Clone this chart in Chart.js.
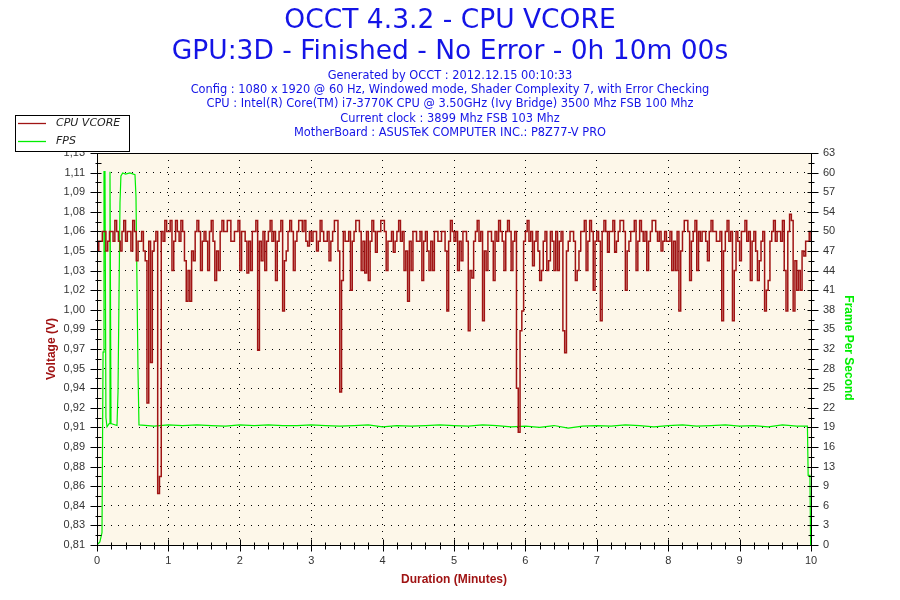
<!DOCTYPE html>
<html>
<head>
<meta charset="utf-8">
<title>OCCT 4.3.2 - CPU VCORE</title>
<script src="https://cdn.jsdelivr.net/npm/chart.js@4.4.1/dist/chart.umd.min.js"></script>
<style>
    html, body { margin: 0; padding: 0; background: #fff; }
    #wrap { width: 900px; height: 600px; }
</style>
</head>
<body>
<div id="wrap"><canvas id="vcoreChart" width="900" height="600"></canvas></div>
<script>
// Header text
const titleLines = ['OCCT 4.3.2 - CPU VCORE', 'GPU:3D - Finished - No Error - 0h 10m 00s'];
const infoLines = [
    'Generated by OCCT : 2012.12.15 00:10:33',
    'Config : 1080 x 1920 @ 60 Hz, Windowed mode, Shader Complexity 7, with Error Checking',
    'CPU : Intel(R) Core(TM) i7-3770K CPU @ 3.50GHz (Ivy Bridge) 3500 Mhz FSB 100 Mhz',
    'Current clock : 3899 Mhz FSB 103 Mhz',
    'MotherBoard : ASUSTeK COMPUTER INC.: P8Z77-V PRO'
];

// Tick labels
const voltTickLabels = ['0,81', '0,83', '0,84', '0,86', '0,88', '0,89', '0,91', '0,92', '0,94', '0,95', '0,97',
    '0,99', '1,00', '1,02', '1,03', '1,05', '1,06', '1,08', '1,09', '1,11', '1,13'];
const fpsTickLabels = ['0', '3', '6', '9', '13', '16', '19', '22', '25', '28', '32',
    '35', '38', '41', '44', '47', '50', '54', '57', '60', '63'];
const minuteTicks = [0, 1, 2, 3, 4, 5, 6, 7, 8, 9, 10];

// CPU VCORE, one sample every 1.5 seconds (0.025 min)
const sampleMinutes = 0.025;
const vcoreValues = [
    1.050, 1.058, 1.058, 1.066, 1.066, 1.050, 1.058, 1.066, 1.066, 1.058, 1.075, 1.066, 1.058, 1.050, 1.066, 1.075, 1.058, 1.066, 1.066, 1.050,
    1.075, 1.066, 1.042, 1.058, 1.058, 1.066, 1.050, 1.042, 0.926, 1.058, 0.959, 1.050, 1.058, 1.066, 0.852, 0.866, 1.066, 1.058, 1.075, 1.066,
    1.066, 1.075, 1.034, 1.058, 1.075, 1.066, 1.058, 1.075, 1.066, 1.042, 1.009, 1.034, 1.009, 1.050, 1.042, 1.066, 1.075, 1.066, 1.034, 1.058,
    1.066, 1.058, 1.034, 1.066, 1.075, 1.058, 1.026, 1.050, 1.034, 1.066, 1.075, 1.066, 1.066, 1.075, 1.075, 1.058, 1.058, 1.066, 1.066, 1.075,
    1.034, 1.066, 1.066, 1.058, 1.032, 1.058, 1.034, 1.066, 1.066, 1.075, 0.969, 1.058, 1.042, 1.066, 1.034, 1.058, 1.066, 1.075, 1.058, 1.066,
    1.026, 1.058, 1.066, 1.075, 1.001, 1.042, 1.050, 1.066, 1.075, 1.066, 1.034, 1.058, 1.066, 1.075, 1.075, 1.066, 1.075, 1.058, 1.054, 1.066,
    1.058, 1.066, 1.066, 1.050, 1.058, 1.075, 1.066, 1.058, 1.058, 1.066, 1.042, 1.058, 1.066, 1.075, 1.075, 1.050, 0.935, 1.026, 1.066, 1.058,
    1.058, 1.066, 1.018, 1.058, 1.066, 1.075, 1.075, 1.066, 1.034, 1.058, 1.032, 1.066, 1.026, 1.058, 1.075, 1.066, 1.049, 1.066, 1.066, 1.075,
    1.075, 1.066, 1.034, 1.058, 1.058, 1.066, 1.049, 1.058, 1.066, 1.075, 1.058, 1.066, 1.034, 1.050, 1.009, 1.058, 1.034, 1.066, 1.066, 1.058,
    1.058, 1.066, 1.026, 1.058, 1.066, 1.050, 1.034, 1.058, 1.034, 1.066, 1.066, 1.058, 1.058, 1.066, 1.066, 1.050, 1.001, 1.058, 1.075, 1.066,
    1.058, 1.066, 1.034, 1.058, 1.042, 1.066, 1.066, 1.058, 0.985, 1.034, 1.028, 1.058, 1.066, 1.075, 1.058, 1.066, 0.993, 1.050, 1.034, 1.066,
    1.066, 1.058, 1.026, 1.066, 1.058, 1.075, 1.066, 1.058, 1.034, 1.066, 1.075, 1.066, 1.034, 1.058, 1.066, 0.938, 0.902, 0.985, 1.001, 1.058,
    1.066, 1.075, 1.058, 1.066, 1.038, 1.058, 1.066, 1.050, 1.026, 1.034, 1.058, 1.066, 1.034, 1.042, 1.066, 1.058, 1.034, 1.066, 1.034, 1.058,
    1.066, 0.985, 0.967, 1.050, 1.058, 1.066, 1.066, 1.058, 1.026, 1.034, 1.050, 1.066, 1.066, 1.075, 1.034, 1.058, 1.075, 1.066, 1.018, 1.058,
    1.066, 1.058, 0.993, 1.066, 1.075, 1.066, 1.049, 1.066, 1.066, 1.075, 1.049, 1.058, 1.066, 1.075, 1.075, 1.066, 1.018, 1.050, 1.058, 1.066,
    1.066, 1.075, 1.034, 1.058, 1.075, 1.066, 1.058, 1.066, 1.034, 1.058, 1.066, 1.075, 1.075, 1.066, 1.058, 1.066, 1.050, 1.058, 1.066, 1.058,
    1.058, 1.066, 1.034, 1.058, 1.034, 1.066, 1.001, 1.050, 1.066, 1.075, 1.075, 1.066, 1.026, 1.058, 1.066, 1.075, 1.034, 1.066, 1.058, 1.066,
    1.066, 1.058, 1.042, 1.066, 1.075, 1.066, 1.066, 1.058, 1.058, 1.066, 0.993, 1.050, 1.066, 1.075, 1.058, 1.066, 0.993, 1.034, 1.066, 1.058,
    1.042, 1.066, 1.066, 1.075, 1.058, 1.066, 1.026, 1.058, 1.066, 1.050, 1.026, 1.042, 1.058, 1.066, 1.001, 1.018, 1.026, 1.058, 1.066, 1.075,
    1.058, 1.066, 1.066, 1.058, 1.075, 1.034, 1.001, 1.066, 1.080, 1.075, 1.001, 1.042, 1.018, 1.034, 1.018, 1.050, 1.046, 1.058, 1.058, 1.066,
    1.058
];

// FPS (minutes, frames per second)
const fpsTimes = [
    0.00, 0.04, 0.07, 0.085, 0.098, 0.112, 0.125, 0.14, 0.17, 0.182, 0.196, 0.28, 0.294, 0.322, 0.335,
    0.36, 0.40, 0.46, 0.532, 0.546, 0.574, 0.588,
    0.8, 1.0, 1.2, 1.4, 1.6, 1.8, 2.0, 2.2, 2.4, 2.6, 2.8, 3.0, 3.2, 3.4, 3.6, 3.8, 4.0,
    4.2, 4.4, 4.6, 4.8, 5.0, 5.2, 5.4, 5.6, 5.8, 6.0, 6.2, 6.4, 6.6, 6.8, 7.0, 7.2, 7.4,
    7.6, 7.8, 8.0, 8.2, 8.4, 8.6, 8.8, 9.0, 9.2, 9.4, 9.6, 9.8, 9.95, 9.96, 9.985, 9.995
];
const fpsValues = [
    0, 0.5, 2, 31, 60, 60, 20.5, 19, 19.5, 60, 19.5, 19.2, 24.5, 55, 59.3,
    59.8, 59.6, 59.8, 59.5, 56, 28, 19.3,
    19.1, 19.3, 19.2, 19.3, 19.2, 19.1, 19.3, 19.2, 19.3, 19.2, 19.2, 19.3, 19.2, 19.1, 19.2, 19.3, 19.0,
    19.2, 19.1, 19.2, 19.3, 19.2, 19.1, 19.3, 19.2, 19.0, 19.1, 18.9, 19.2, 18.8, 19.1, 19.2, 19.1, 19.3,
    19.2, 19.0, 19.2, 19.3, 19.1, 19.2, 19.3, 19.1, 19.2, 19.0, 19.3, 19.1, 19.1, 11.2, 11.2, 0
];

const voltRange = [0.81, 1.13];
const fpsRange = [0, 63];

const vcoreColor = '#a01414';
const fpsColor = '#00ee00';
const plotBg = '#fdf7e9';
const titleBlue = '#1414e6';

function evenTicks(range, count) {
    const out = [];
    for (let i = 0; i < count; i++) {
        out.push({ value: range[0] + (range[1] - range[0]) * i / (count - 1) });
    }
    return out;
}

const occtDecor = {
    id: 'occtDecor',
    beforeDraw(chart) {
        const { ctx, chartArea: a } = chart;
        ctx.save();
        ctx.fillStyle = '#fff';
        ctx.fillRect(0, 0, chart.width, chart.height);
        ctx.fillStyle = plotBg;
        ctx.fillRect(a.left, a.top, a.right - a.left, a.bottom - a.top);
        ctx.restore();
    },
    afterDraw(chart) {
        const { ctx, chartArea: a, scales } = chart;
        ctx.save();

        // frame
        ctx.strokeStyle = '#000';
        ctx.lineWidth = 1;
        ctx.strokeRect(Math.round(a.left) + 0.5, Math.round(a.top) + 0.5,
            Math.round(a.right - a.left), Math.round(a.bottom - a.top));

        // tick marks, one minor between majors on y, four on x
        ctx.beginPath();
        const yl = scales.yV, yr = scales.yF, xs = scales.x;
        const L = Math.round(a.left) + 0.5, R = Math.round(a.right) + 0.5, B = Math.round(a.bottom) + 0.5;
        yl.ticks.forEach((t, i) => {
            const y = Math.round(yl.getPixelForValue(t.value)) + 0.5;
            ctx.moveTo(L - 7, y); ctx.lineTo(L + 4, y);
            if (i < yl.ticks.length - 1) {
                const ym = Math.round(yl.getPixelForValue((t.value + yl.ticks[i + 1].value) / 2)) + 0.5;
                ctx.moveTo(L - 2, ym); ctx.lineTo(L + 4, ym);
            }
        });
        yr.ticks.forEach((t, i) => {
            const y = Math.round(yr.getPixelForValue(t.value)) + 0.5;
            ctx.moveTo(R - 4, y); ctx.lineTo(R + 7, y);
            if (i < yr.ticks.length - 1) {
                const ym = Math.round(yr.getPixelForValue((t.value + yr.ticks[i + 1].value) / 2)) + 0.5;
                ctx.moveTo(R - 3, ym); ctx.lineTo(R + 3, ym);
            }
        });
        xs.ticks.forEach((t, i) => {
            const x = Math.round(xs.getPixelForValue(t.value)) + 0.5;
            ctx.moveTo(x, B - 6); ctx.lineTo(x, B + 6);
            if (i < xs.ticks.length - 1) {
                for (let k = 1; k < 5; k++) {
                    const xm = Math.round(xs.getPixelForValue(t.value + k / 5)) + 0.5;
                    ctx.moveTo(xm, B - 3); ctx.lineTo(xm, B + 4);
                }
            }
        });
        ctx.stroke();

        // header
        ctx.fillStyle = titleBlue;
        ctx.textAlign = 'center';
        ctx.textBaseline = 'middle';
        ctx.font = '26.5px "DejaVu Sans"';
        ctx.fillText(titleLines[0], 450, 21);
        ctx.fillText(titleLines[1], 450, 52);
        ctx.font = '11.4px "DejaVu Sans"';
        infoLines.forEach((line, i) => ctx.fillText(line, 450, 76 + i * 14.2));

        // axis titles
        ctx.font = 'bold 12px "Liberation Sans"';
        ctx.fillStyle = vcoreColor;
        ctx.fillText('Duration (Minutes)', 454, 580);
        ctx.save();
        ctx.translate(52, 349);
        ctx.rotate(-Math.PI / 2);
        ctx.fillText('Voltage (V)', 0, 0);
        ctx.restore();
        ctx.save();
        ctx.fillStyle = fpsColor;
        ctx.translate(848, 348);
        ctx.rotate(Math.PI / 2);
        ctx.fillText('Frame Per Second', 0, 0);
        ctx.restore();

        // legend box
        ctx.fillStyle = '#fff';
        ctx.fillRect(15.5, 115.5, 114, 36);
        ctx.strokeStyle = '#000';
        ctx.strokeRect(15.5, 115.5, 114, 36);
        ctx.textAlign = 'left';
        ctx.font = 'italic 11px "DejaVu Sans"';
        ctx.lineWidth = 1.3;
        chart.data.datasets.forEach((ds, i) => {
            const y = 123.5 + i * 18;
            ctx.strokeStyle = ds.borderColor;
            ctx.beginPath();
            ctx.moveTo(18, y); ctx.lineTo(46, y);
            ctx.stroke();
            ctx.fillStyle = '#222';
            ctx.fillText(ds.label, 56, y);
        });

        ctx.restore();
    }
};

const tickFont = { family: 'Liberation Sans', size: 11 };

new Chart(document.getElementById('vcoreChart'), {
    type: 'line',
    data: {
        datasets: [{
            label: 'CPU VCORE',
            data: vcoreValues.map((v, i) => ({ x: i * sampleMinutes, y: v })),
            yAxisID: 'yV',
            borderColor: vcoreColor,
            borderWidth: 1.5,
            pointRadius: 0,
            stepped: true,
            order: 1
        }, {
            label: 'FPS',
            data: fpsTimes.map((t, i) => ({ x: t, y: fpsValues[i] })),
            yAxisID: 'yF',
            borderColor: fpsColor,
            borderWidth: 1.2,
            pointRadius: 0,
            tension: 0,
            order: 2
        }]
    },
    options: {
        responsive: false,
        animation: false,
        devicePixelRatio: 1,
        layout: { padding: { top: 153, left: 0, right: 0, bottom: 0 } },
        plugins: { legend: { display: false }, tooltip: { enabled: false } },
        scales: {
            x: {
                type: 'linear',
                min: 0,
                max: 10,
                afterBuildTicks: s => { s.ticks = minuteTicks.map(v => ({ value: v })); },
                afterFit: s => { s.height = 55; },
                grid: { color: '#000', lineWidth: 1, drawTicks: false },
                border: { display: false, dash: [1, 6] },
                ticks: { color: '#333', font: tickFont, padding: 9, maxRotation: 0, autoSkip: false,
                    callback: v => String(v) }
            },
            yV: {
                type: 'linear',
                position: 'left',
                min: voltRange[0],
                max: voltRange[1],
                afterBuildTicks: s => { s.ticks = evenTicks(voltRange, voltTickLabels.length); },
                afterFit: s => { s.width = 97; },
                grid: { color: '#000', lineWidth: 1, drawTicks: false },
                border: { display: false, dash: [1, 6] },
                ticks: { color: '#333', font: tickFont, padding: 12, autoSkip: false,
                    callback: (v, i) => voltTickLabels[i] }
            },
            yF: {
                type: 'linear',
                position: 'right',
                min: fpsRange[0],
                max: fpsRange[1],
                afterBuildTicks: s => { s.ticks = evenTicks(fpsRange, fpsTickLabels.length); },
                afterFit: s => { s.width = 89; },
                grid: { drawOnChartArea: false, drawTicks: false },
                border: { display: false },
                ticks: { color: '#333', font: tickFont, padding: 12, autoSkip: false,
                    callback: (v, i) => fpsTickLabels[i] }
            }
        }
    },
    plugins: [occtDecor]
});
</script>
</body>
</html>
